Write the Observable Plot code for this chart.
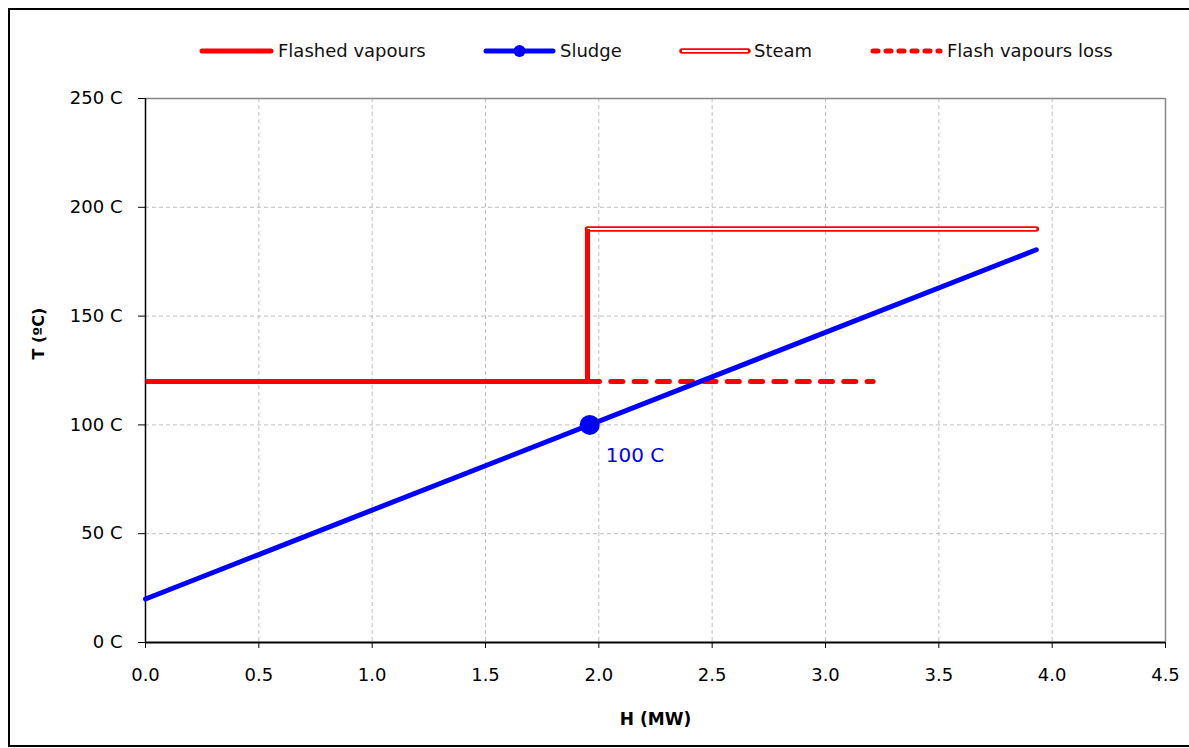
<!DOCTYPE html>
<html><head><meta charset="utf-8">
<script src="https://cdn.jsdelivr.net/npm/d3@7"></script>
<script src="https://cdn.jsdelivr.net/npm/@observablehq/plot@0.6"></script>
<style>
body{margin:0;background:#fff;width:1189px;height:748px;overflow:hidden;position:relative;font-family:"DejaVu Sans",sans-serif}
#frame{position:absolute;left:8px;top:8px;width:1200px;height:739px;border:2px solid #000;box-sizing:border-box}
#legend{position:absolute;left:0;top:30px;width:1189px;height:44px}
#chart{position:absolute;left:0;top:80px}
</style></head><body>
<div id="frame"></div>
<div id="legend"></div>
<div id="chart"></div>
<script>
// ---- data ----
const seriesNames = ["Flashed vapours", "Sludge", "Steam", "Flash vapours loss"];
const flashedH = [0, 1.95, 1.95];
const flashedT = [120, 120, 190];
const sludgeH = [0, 3.93];
const sludgeT = [20, 180.5];
const steamH = [1.95, 3.93];
const steamT = [190, 190];
const lossH = [1.95, 3.21];
const lossT = [120, 120];
const markerH = [1.96];
const markerT = [100];
const markerLabels = ["100 C"];
const xTicks = [0, 0.5, 1, 1.5, 2, 2.5, 3, 3.5, 4, 4.5];
const yTicks = [0, 50, 100, 150, 200, 250];
const xTitle = "H (MW)";
const yTitle = "T (ºC)";

const rows = (h, t) => h.map((x, i) => ({h: x, t: t[i]}));
const flashed = rows(flashedH, flashedT);
const sludge = rows(sludgeH, sludgeT);
const steam = rows(steamH, steamT);
const loss = rows(lossH, lossT);
const marker = markerH.map((x, i) => ({h: x, t: markerT[i], label: markerLabels[i]}));

const RED = "#ff0000", BLUE = "#0000ff";
const gridStyle = {stroke: "#bfbfbf", strokeOpacity: 1, strokeDasharray: "4,3", strokeWidth: 1};

const chart = Plot.plot({
  width: 1189, height: 668,
  marginLeft: 145, marginRight: 24, marginTop: 18, marginBottom: 106,
  style: {fontFamily: "'DejaVu Sans', sans-serif", fontSize: "18px", color: "#000", background: "transparent"},
  x: {domain: [0, 4.5]},
  y: {domain: [0, 250]},
  marks: [
    Plot.gridX({ticks: xTicks.filter(d => d > 0 && d < 4.5), ...gridStyle}),
    Plot.gridY({ticks: yTicks.filter(d => d > 0 && d < 250), ...gridStyle}),
    Plot.ruleY([250], {stroke: "#868686", strokeWidth: 1.5}),
    Plot.ruleX([4.5], {stroke: "#868686", strokeWidth: 1.5}),
    Plot.axisX({ticks: xTicks, tickSize: 6, tickPadding: 20, tickFormat: d3.format(".1f"), label: null, fontSize: 18}),
    Plot.axisY({ticks: yTicks, tickSize: 7, tickPadding: 16, tickFormat: d => d + " C", label: null, fontSize: 18}),
    Plot.ruleX([0], {stroke: "#000", strokeWidth: 1.5}),
    Plot.ruleY([0], {stroke: "#000", strokeWidth: 2}),
    Plot.line(loss, {x: "h", y: "t", stroke: RED, strokeWidth: 5, strokeDasharray: "12,11.3", strokeLinecap: "round"}),
    Plot.line(sludge, {x: "h", y: "t", stroke: BLUE, strokeWidth: 5, strokeLinecap: "round"}),
    Plot.line(steam, {x: "h", y: "t", stroke: RED, strokeWidth: 5.5, strokeLinecap: "round"}),
    Plot.line(steam, {x: "h", y: "t", stroke: "#fff", strokeWidth: 2, strokeLinecap: "butt"}),
    Plot.line(flashed, {x: "h", y: "t", stroke: RED, strokeWidth: 5, strokeLinejoin: "miter", strokeLinecap: "butt"}),
    Plot.dot(marker, {x: "h", y: "t", r: 10, fill: BLUE}),
    Plot.text(marker, {x: "h", y: "t", text: "label", dx: 16, dy: 31, textAnchor: "start", fill: BLUE, fontSize: 20}),
    Plot.text([xTitle], {text: d => d, frameAnchor: "bottom", dy: 82, fontWeight: "bold", fontSize: 17}),
    Plot.text([yTitle], {text: d => d, frameAnchor: "left", dx: -107, dy: -11, rotate: -90, fontWeight: "bold", fontSize: 16})
  ]
});
document.getElementById("chart").appendChild(chart);

// ---- legend ----
const legendLayout = [
  {x0: 202, x1: 271, tx: 278},
  {x0: 486, x1: 553, tx: 560},
  {x0: 682, x1: 748, tx: 754},
  {x0: 873, x1: 940, tx: 947}
];
const ly = 21;
const svg = d3.select("#legend").append("svg").attr("width", 1189).attr("height", 44);
seriesNames.forEach((name, i) => {
  const L = legendLayout[i];
  const g = svg.append("g");
  const line = (stroke, w, extra = {}) => {
    const l = g.append("line").attr("x1", L.x0).attr("x2", L.x1).attr("y1", ly).attr("y2", ly)
      .attr("stroke", stroke).attr("stroke-width", w).attr("stroke-linecap", "round");
    Object.entries(extra).forEach(([k, v]) => l.attr(k, v));
  };
  if (i === 0) line(RED, 5);
  if (i === 1) { line(BLUE, 5); g.append("circle").attr("cx", (L.x0 + L.x1) / 2).attr("cy", ly).attr("r", 6).attr("fill", BLUE); }
  if (i === 2) { line(RED, 5.5); line("#fff", 2, {"stroke-linecap": "butt"}); }
  if (i === 3) line(RED, 5, {"stroke-dasharray": "5,8"});
  g.append("text").attr("x", L.tx).attr("y", ly).attr("dy", "0.35em")
    .attr("font-family", "'DejaVu Sans', sans-serif").attr("font-size", 18).attr("fill", "#111").text(name);
});
</script>
</body></html>
